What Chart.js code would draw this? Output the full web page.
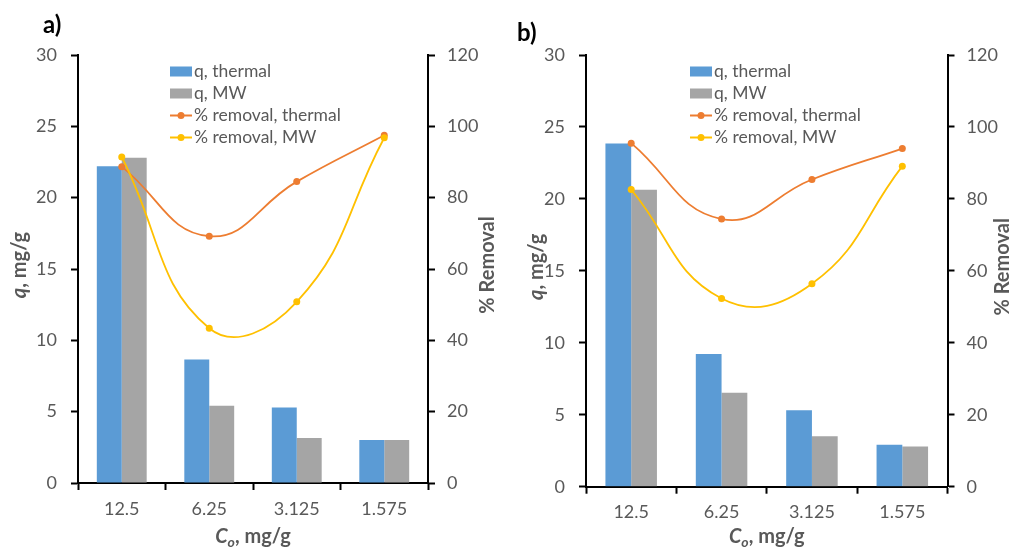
<!DOCTYPE html>
<html>
<head>
<meta charset="utf-8">
<script src="https://cdn.jsdelivr.net/npm/chart.js@4.4.0/dist/chart.umd.min.js"></script>
<style>
  body { margin: 0; background: #fff; }
  #wrap { position: relative; width: 1013px; height: 549px; }
  canvas { position: absolute; top: 0; }
  #chartA { left: 0; }
  #chartB { left: 500px; }
</style>
</head>
<body>
<div id="wrap">
  <canvas id="chartA" width="500" height="549"></canvas>
  <canvas id="chartB" width="513" height="549"></canvas>
</div>
<script>
// categories (initial concentration)
const categories = ['12.5', '6.25', '3.125', '1.575'];
const seriesLabels = ['q, thermal', 'q, MW', '% removal, thermal', '% removal, MW'];

// panel a)
const aQThermal = [22.2, 8.65, 5.3, 3.02];
const aQMW = [22.8, 5.42, 3.15, 3.02];
const aRemovalThermal = [88.7, 69.2, 84.5, 97.5];
const aRemovalMW = [91.4, 43.4, 50.8, 96.8];

// panel b)
const bQThermal = [23.85, 9.22, 5.31, 2.92];
const bQMW = [20.63, 6.53, 3.5, 2.79];
const bRemovalThermal = [95.5, 74.4, 85.4, 94.0];
const bRemovalMW = [82.6, 52.3, 56.4, 89.1];

// axis ranges
const qMax = 30, qStep = 5;
const removalMax = 120, removalStep = 20;

// axis titles, as rich-text parts
const qTitle = [{ t: 'q', italic: true }, { t: ', mg/g' }];
const removalTitle = [{ t: '% Removal' }];
const coTitle = [{ t: 'C', italic: true }, { t: 'o', italic: true, sub: true }, { t: ', mg/g' }];

const FONT = 'Lato, "Open Sans", sans-serif';
const GREY = '#595959';
const colors = ['#5B9BD5', '#A5A5A5', '#ED7D31', '#FFC000'];

function drawRich(ctx, parts, cx, cy, angle) {
  const size = 20;
  const fontOf = p => (p.italic ? 'italic ' : '') + 'bold ' + (p.sub ? size * 0.7 : size) + 'px ' + FONT;
  let total = 0;
  parts.forEach(p => { ctx.font = fontOf(p); total += ctx.measureText(p.t).width; });
  ctx.save();
  ctx.translate(cx, cy);
  ctx.rotate(angle);
  ctx.fillStyle = GREY;
  ctx.textBaseline = 'middle';
  ctx.textAlign = 'left';
  let x = -total / 2;
  parts.forEach(p => {
    ctx.font = fontOf(p);
    ctx.fillText(p.t, x, p.sub ? 5 : 0);
    x += ctx.measureText(p.t).width;
  });
  ctx.restore();
}

// panel letter, legend and axis titles
const decorPlugin = {
  id: 'decor',
  afterDraw(chart, args, opts) {
    const ctx = chart.ctx;
    const area = chart.chartArea;
    ctx.save();
    ctx.font = 'bold 24px ' + FONT;
    ctx.fillStyle = '#000';
    ctx.textBaseline = 'middle';
    ctx.textAlign = 'left';
    ctx.fillText(opts.letter, opts.letterX, opts.letterY);

    // legend
    ctx.font = '17.5px ' + FONT;
    chart.data.datasets.forEach((ds, i) => {
      const y = opts.legendY + i * 22;
      const x = opts.legendX;
      if (ds.type === 'line') {
        ctx.strokeStyle = ds.borderColor;
        ctx.lineWidth = 2;
        ctx.beginPath();
        ctx.moveTo(x, y);
        ctx.lineTo(x + 22, y);
        ctx.stroke();
        ctx.fillStyle = ds.borderColor;
        ctx.beginPath();
        ctx.arc(x + 11, y, 3.5, 0, Math.PI * 2);
        ctx.fill();
      } else {
        ctx.fillStyle = ds.backgroundColor;
        ctx.fillRect(x, y - 5, 22, 10);
      }
      ctx.fillStyle = GREY;
      ctx.fillText(ds.label, x + 24, y);
    });
    ctx.restore();

    const midY = (area.top + area.bottom) / 2;
    drawRich(ctx, qTitle, opts.qTitleX, midY - 4, -Math.PI / 2);
    drawRich(ctx, removalTitle, opts.removalTitleX, midY - 4, -Math.PI / 2);
    drawRich(ctx, coTitle, (area.left + area.right) / 2, opts.xTitleY, 0);
  }
};

function axisStyle() {
  return {
    border: { display: true, color: '#000', width: 2 },
    grid: { drawOnChartArea: false, drawTicks: true, tickLength: 7, tickColor: '#000', tickWidth: 2 },
  };
}

function makeChart(id, qThermal, qMW, remThermal, remMW, g) {
  const ctx = document.getElementById(id).getContext('2d');
  return new Chart(ctx, {
    type: 'bar',
    data: {
      labels: categories,
      datasets: [
        { type: 'bar', label: seriesLabels[0], data: qThermal, backgroundColor: colors[0], yAxisID: 'y', order: 2 },
        { type: 'bar', label: seriesLabels[1], data: qMW, backgroundColor: colors[1], yAxisID: 'y', order: 2 },
        { type: 'line', label: seriesLabels[2], data: remThermal, borderColor: colors[2], backgroundColor: colors[2],
          borderWidth: 1.8, pointRadius: 3.5, pointBorderWidth: 0, tension: 0.45, yAxisID: 'y1', order: 1 },
        { type: 'line', label: seriesLabels[3], data: remMW, borderColor: colors[3], backgroundColor: colors[3],
          borderWidth: 1.8, pointRadius: 3.5, pointBorderWidth: 0, tension: 0.45, yAxisID: 'y1', order: 0 }
      ]
    },
    options: {
      responsive: false,
      animation: false,
      datasets: { bar: { categoryPercentage: 0.57, barPercentage: 1 } },
      layout: { padding: { top: g.top, left: 0, right: 0, bottom: 0 } },
      plugins: {
        legend: { display: false },
        tooltip: { enabled: false },
        decor: g.decor
      },
      scales: {
        x: {
          ...axisStyle(),
          grid: { ...axisStyle().grid, offset: true },
          ticks: { color: GREY, font: { family: FONT, size: 18 }, padding: 8, maxRotation: 0 },
          afterFit: s => { s.height = g.xHeight; }
        },
        y: {
          ...axisStyle(),
          position: 'left',
          min: 0, max: qMax,
          ticks: { stepSize: qStep, color: GREY, font: { family: FONT, size: 18 }, padding: 14 },
          afterFit: s => { s.width = g.leftWidth; }
        },
        y1: {
          ...axisStyle(),
          position: 'right',
          min: 0, max: removalMax,
          ticks: { stepSize: removalStep, color: GREY, font: { family: FONT, size: 18 }, padding: 12 },
          afterFit: s => { s.width = g.rightWidth; }
        }
      }
    },
    plugins: [decorPlugin]
  });
}

makeChart('chartA', aQThermal, aQMW, aRemovalThermal, aRemovalMW, {
  top: 55, leftWidth: 78, rightWidth: 72, xHeight: 66,
  decor: { letter: 'a)', letterX: 43, letterY: 25, legendX: 170, legendY: 71.5,
           qTitleX: 20, removalTitleX: 488, xTitleY: 537 }
});

makeChart('chartB', bQThermal, bQMW, bRemovalThermal, bRemovalMW, {
  top: 55, leftWidth: 86, rightWidth: 65.5, xHeight: 62.3,
  decor: { letter: 'b)', letterX: 17, letterY: 33, legendX: 190, legendY: 71.5,
           qTitleX: 37, removalTitleX: 503, xTitleY: 537 }
});
</script>
</body>
</html>
